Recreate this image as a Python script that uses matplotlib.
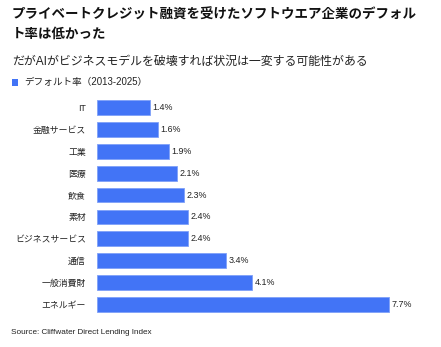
import matplotlib
matplotlib.use("Agg")
import matplotlib.pyplot as plt
from matplotlib.patches import Rectangle

plt.rcParams['font.family'] = ['Liberation Sans', 'Noto Sans CJK JP', 'DejaVu Sans']
CJK = ['Noto Sans CJK JP', 'DejaVu Sans']

categories = ["IT", "金融サービス", "工業", "医療", "飲食", "素材", "ビジネスサービス", "通信", "一般消費財", "エネルギー"]
values = [1.4, 1.6, 1.9, 2.1, 2.3, 2.4, 2.4, 3.4, 4.1, 7.7]
title = "プライベートクレジット融資を受けたソフトウエア企業のデフォル\nト率は低かった"
subtitle = "だがAIがビジネスモデルを破壊すれば状況は一変する可能性がある"
legend_label = "デフォルト率（2013-2025）"
source = "Source: Cliffwater Direct Lending Index"

W, H = 441, 347
fig = plt.figure(figsize=(W/100, H/100), dpi=100)
color = "#4274F6"

# axes: bars start x=97, 37.9 px per %
x0 = 97
ax_w = 330
ax = fig.add_axes([x0/W, 1-320/H, ax_w/W, (320-92)/H])
n = len(categories)
ypos = list(range(n))
ax.barh(ypos, values, height=0.68, color=color, edgecolor="#7FA0F8", linewidth=0.6)
ax.set_xlim(0, ax_w/37.9)
ax.set_ylim(n - 0.5 + 0.2, -0.5 - 0.2)
ax.set_yticks(ypos)
ax.set_yticklabels(categories, fontsize=6.4, color="#222222")
ax.tick_params(axis='y', length=0, pad=8)
ax.set_xticks([])
for s in ax.spines.values():
    s.set_visible(False)
for y, v in zip(ypos, values):
    ax.text(v + 0.07, y, f"{v}%", va='center', ha='left', fontsize=6.4, color="#222222")

fig.text(12/W, 1-8/H, title, fontsize=9.7, fontweight='bold', va='top', ha='left',
         linespacing=1.45, color="#111111", family=CJK)
fig.text(12/W, 1-62/H, subtitle, fontsize=8.6, va='center', ha='left', color="#222222")
fig.patches.append(Rectangle((12/W, 1-86/H), 6/W, 7/H, transform=fig.transFigure,
                             facecolor=color, edgecolor='none'))
fig.text(24/W, 1-82/H, legend_label, fontsize=6.9, va='center', ha='left', color="#222222")
fig.text(11/W, 1-332/H, source, fontsize=5.9, va='center', ha='left', color="#222222")

fig.savefig("out.png", dpi=100)
